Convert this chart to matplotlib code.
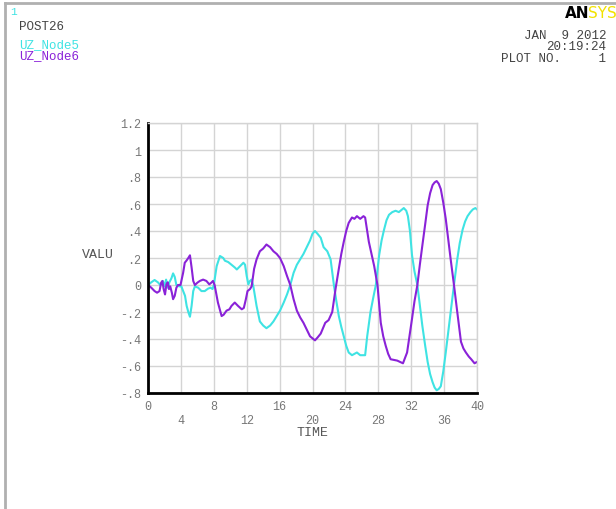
import matplotlib.pyplot as plt
from matplotlib.lines import Line2D

# UZ_Node5 (cyan)
t_node5 = [0, 0.4, 0.8, 1.2, 1.5, 1.8, 2.0, 2.2, 2.4, 2.6, 2.85, 3.05, 3.25, 3.45, 3.8,
           4.05, 4.5, 4.7, 4.9, 5.1, 5.3, 5.5, 5.7, 6.1, 6.5, 6.9, 7.3, 7.6, 7.85, 8.0,
           8.35, 8.75, 9.15, 9.35, 9.75, 10.15, 10.55, 10.8, 11.2, 11.6, 11.8, 12.0, 12.2,
           12.4, 12.6, 12.8, 13.2, 13.6, 14.0, 14.4, 14.85, 15.25, 15.65, 16.05, 16.5,
           16.9, 17.3, 17.7, 18.1, 18.5, 18.9, 19.3, 19.7, 20.0, 20.3, 20.6, 21.0, 21.35,
           21.8, 22.2, 22.6, 22.9, 23.2, 23.5, 23.8, 24.1, 24.4, 24.8, 25.1, 25.4, 25.8,
           26.4, 26.65, 27.05, 27.4, 27.7, 28.1, 28.4, 28.7, 29.0, 29.3, 29.7, 30.1, 30.5,
           31.1, 31.4, 31.6, 31.85, 32.1, 32.4, 32.75, 33.05, 33.35, 33.7, 34.0, 34.3,
           34.6, 34.85, 35.1, 35.35, 35.6, 35.9, 36.2, 36.5, 36.8, 37.2, 37.6, 37.9, 38.25,
           38.55, 38.85, 39.2, 39.5, 39.8, 40.0]
uz_node5 = [0, 0.02, 0.037, 0.02, 0.0, 0.03, -0.01, 0.04, -0.02, 0.02, 0.05, 0.086, 0.06,
            0.0, -0.01, -0.01, -0.08, -0.155, -0.2, -0.235, -0.155, -0.045, -0.01, -0.02,
            -0.045, -0.045, -0.027, -0.02, -0.03, 0.0, 0.14, 0.215, 0.2, 0.18, 0.17, 0.15,
            0.13, 0.115, 0.14, 0.165, 0.15, 0.067, 0.005, 0.03, 0.04, -0.007, -0.155, -0.27,
            -0.3, -0.32, -0.3, -0.27, -0.23, -0.19, -0.13, -0.07, 0.0, 0.09, 0.15, 0.19,
            0.23, 0.28, 0.33, 0.38, 0.40, 0.38, 0.35, 0.28, 0.25, 0.19, 0.0, -0.12, -0.23,
            -0.31, -0.38, -0.45, -0.5, -0.52, -0.51, -0.5, -0.52, -0.52, -0.38, -0.2, -0.09,
            0.0, 0.22, 0.33, 0.41, 0.48, 0.52, 0.54, 0.55, 0.54, 0.57, 0.55, 0.51, 0.4,
            0.22, 0.1, 0.0, -0.15, -0.3, -0.45, -0.57, -0.66, -0.72, -0.76, -0.78, -0.77,
            -0.75, -0.64, -0.5, -0.35, -0.2, 0.0, 0.19, 0.31, 0.41, 0.47, 0.51, 0.54, 0.56,
            0.57, 0.56]

# UZ_Node6 (purple)
t_node6 = [0, 0.4, 0.8, 1.1, 1.4, 1.6, 1.75, 1.9, 2.07, 2.24, 2.4, 2.55, 2.7, 2.9, 3.05,
           3.25, 3.45, 3.65, 3.95, 4.27, 4.47, 4.67, 4.9, 5.1, 5.3, 5.5, 5.7, 6.0, 6.3,
           6.7, 7.1, 7.45, 7.7, 7.9, 8.1, 8.5, 8.95, 9.2, 9.55, 9.9, 10.15, 10.55, 10.95,
           11.4, 11.65, 11.9, 12.1, 12.4, 12.6, 12.9, 13.2, 13.6, 14.0, 14.4, 14.85, 15.25,
           15.65, 16.05, 16.5, 16.9, 17.3, 17.7, 18.1, 18.5, 18.9, 19.3, 19.7, 20.1, 20.3,
           20.6, 21.0, 21.55, 21.96, 22.4, 22.8, 23.2, 23.5, 23.8, 24.1, 24.4, 24.8, 25.1,
           25.4, 25.8, 26.2, 26.4, 26.85, 27.5, 27.9, 28.3, 28.6, 28.9, 29.2, 29.5, 30.3,
           31.0, 31.5, 32.1, 32.4, 32.75, 33.05, 33.35, 33.7, 34.0, 34.3, 34.6, 34.85, 35.1,
           35.35, 35.6, 35.9, 36.2, 36.5, 36.8, 37.2, 37.6, 38.05, 38.35, 38.65, 39.0,
           39.3, 39.7, 40.0]
uz_node6 = [0, -0.02, -0.045, -0.057, -0.045, 0.017, 0.03, -0.03, -0.07, 0.005, 0.02,
            -0.03, -0.01, -0.057, -0.105, -0.08, -0.02, 0.0, 0.0, 0.09, 0.165, 0.18, 0.2,
            0.22, 0.13, 0.03, 0.0, 0.017, 0.03, 0.04, 0.03, 0.005, 0.017, 0.03, 0.0, -0.13,
            -0.23, -0.22, -0.19, -0.18, -0.155, -0.13, -0.155, -0.18, -0.17, -0.105, -0.045,
            -0.03, -0.01, 0.12, 0.19, 0.25, 0.27, 0.3, 0.28, 0.25, 0.23, 0.2, 0.14, 0.067,
            0.0, -0.105, -0.19, -0.24, -0.28, -0.33, -0.38, -0.4, -0.41, -0.39, -0.36,
            -0.28, -0.26, -0.2, -0.03, 0.12, 0.23, 0.32, 0.4, 0.46, 0.5, 0.49, 0.51, 0.49,
            0.51, 0.5, 0.32, 0.14, 0.0, -0.28, -0.38, -0.45, -0.51, -0.55, -0.56, -0.58,
            -0.5, -0.25, -0.12, 0.0, 0.15, 0.29, 0.45, 0.59, 0.68, 0.74, 0.76, 0.77, 0.75,
            0.71, 0.61, 0.49, 0.34, 0.19, 0.0, -0.2, -0.42, -0.47, -0.5, -0.53, -0.55,
            -0.58, -0.57]

x_ticks = [0, 4, 8, 12, 16, 20, 24, 28, 32, 36, 40]
y_ticks = [-0.8, -0.6, -0.4, -0.2, 0, 0.2, 0.4, 0.6, 0.8, 1.0, 1.2]
y_labels = ['-.8', '-.6', '-.4', '-.2', '0', '.2', '.4', '.6', '.8', '1', '1.2']

CYAN = '#3fe3e3'
PURPLE = '#8a22d8'
plt.rcParams['font.family'] = 'Liberation Mono'

fig = plt.figure(figsize=(6.16, 5.10), dpi=100)
ax = fig.add_axes([148 / 616, 116 / 510, 329 / 616, 270 / 510])

ax.plot(t_node5, uz_node5, color=CYAN, lw=1.5)
ax.plot(t_node6, uz_node6, color=PURPLE, lw=1.5)

ax.set_xlim(0, 40)
ax.set_ylim(-0.8, 1.2)
ax.set_xticks(x_ticks)
# staggered x labels like the ANSYS plot
ax.set_xticklabels([str(v) if i % 2 == 0 else '\n' + str(v) for i, v in enumerate(x_ticks)])
ax.set_yticks(y_ticks)
ax.set_yticklabels(y_labels)
ax.tick_params(length=0, labelsize=8.5, colors='#777777', pad=5)
ax.grid(True, color='#d4d4d4', lw=1)
ax.set_axisbelow(True)

for s in ['top', 'right']:
    ax.spines[s].set_color('#d4d4d4')
    ax.spines[s].set_linewidth(1)
for s in ['left', 'bottom']:
    ax.spines[s].set_color('black')
    ax.spines[s].set_linewidth(2)

fig.text(312 / 616, 1 - 433 / 510, 'TIME', ha='center', va='center', fontsize=9.5, color='#555555')
fig.text(98 / 616, 1 - 255 / 510, 'VALU', ha='center', va='center', fontsize=9.5, color='#555555')

# frame lines of the window
fig.add_artist(Line2D([4.5 / 616, 4.5 / 616], [0, 1 - 4 / 510], color='#b0b0b0', lw=2))
fig.add_artist(Line2D([4.5 / 616, 1], [1 - 4 / 510, 1 - 4 / 510], color='#b0b0b0', lw=2))

# header texts
fig.text(10 / 616, 1 - 12 / 510, '1', ha='left', va='center', fontsize=8, color=CYAN)
fig.text(19 / 616, 1 - 27 / 510, 'POST26', ha='left', va='center', fontsize=9, color='#444444')
fig.text(19 / 616, 1 - 45 / 510, 'UZ_Node5', ha='left', va='center', fontsize=9, color=CYAN)
fig.text(19 / 616, 1 - 56 / 510, 'UZ_Node6', ha='left', va='center', fontsize=9, color=PURPLE)

fig.text(606 / 616, 1 - 36 / 510, 'JAN  9 2012', ha='right', va='center', fontsize=9, color='#444444')
fig.text(606 / 616, 1 - 47 / 510, '20:19:24', ha='right', va='center', fontsize=9, color='#444444')
fig.text(606 / 616, 1 - 59 / 510, 'PLOT NO.     1', ha='right', va='center', fontsize=9, color='#444444')

fig.text(565 / 616, 1 - 14 / 510, 'AN', ha='left', va='center', fontsize=11,
         fontweight='bold', family='DejaVu Sans', color='black')
fig.text(588 / 616, 1 - 14 / 510, 'SYS', ha='left', va='center', fontsize=11,
         family='DejaVu Sans', color='#f2e200')

fig.savefig('out.png', dpi=100)
